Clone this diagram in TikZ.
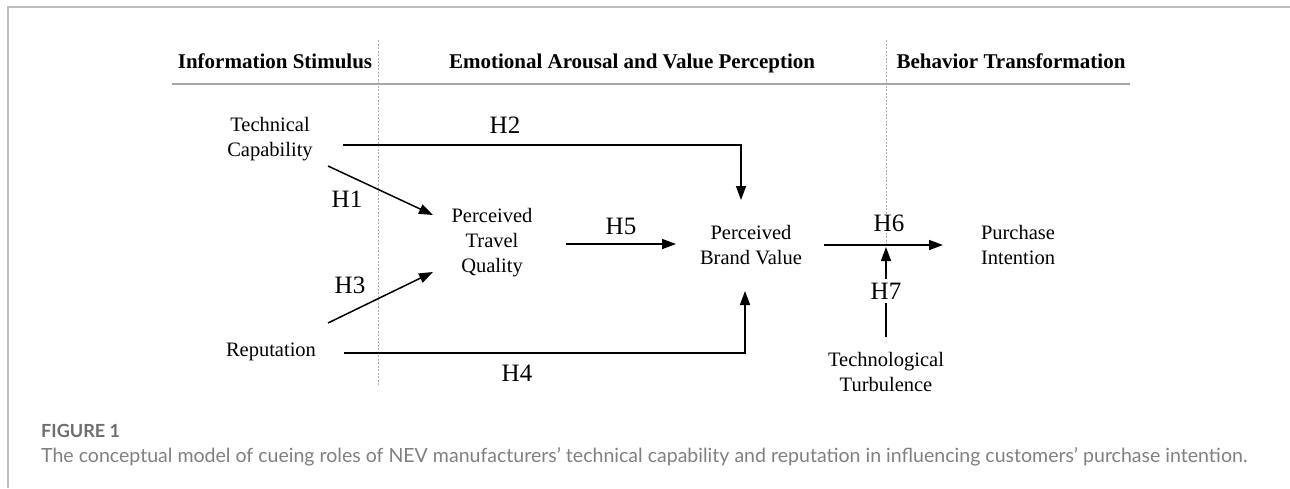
\documentclass[tikz,border=0pt]{standalone}
\usepackage{fontspec}
\setmainfont{Liberation Serif}
\newfontfamily\capfont{Lato}
\usetikzlibrary{arrows.meta}
\definecolor{framegray}{HTML}{BDBDBD}
\definecolor{rulegray}{HTML}{A6A6A6}
\definecolor{dotgray}{HTML}{B0B0B0}
\definecolor{capgray}{HTML}{808080}
\definecolor{figgray}{HTML}{6E6E6E}
\tikzset{
  concept/.style={align=center, font=\fontsize{20.5}{25}\selectfont, inner sep=0pt},
  header/.style={anchor=base, font=\bfseries\fontsize{21}{25}\selectfont, inner sep=0pt},
  hlabel/.style={font=\fontsize{25}{28}\selectfont, inner sep=1pt},
  arr/.style={line width=1.5pt, -{Triangle[length=14pt,width=10pt]}},
  divider/.style={dotgray, line width=0.9pt, dash pattern=on 2pt off 1.5pt},
}
\begin{document}
\begin{tikzpicture}[x=1pt,y=-1pt]
\useasboundingbox (0,0) rectangle (1290,488);
% frame
\draw[framegray, line width=1.6pt] (8,488) -- (8,7) -- (1290,7);
% dividers
\draw[divider] (378,40) -- (378,385);
\draw[divider] (886,40) -- (886,245);
% headers
\node[header] (hs) at (275,68) {Information Stimulus};
\node[header] (he) at (632,68) {Emotional Arousal and Value Perception};
\node[header] (hb) at (1011,68) {Behavior Transformation};
\draw[rulegray, line width=2pt] (172,84) -- (1130,84);
% concepts
\node[concept] (tc) at (270,139) {Technical\\Capability};
\node[concept] (rep) at (271,352) {Reputation};
\node[concept] (ptq) at (492,243) {Perceived\\Travel\\Quality};
\node[concept] (pbv) at (751,245) {Perceived\\Brand Value};
\node[concept] (pi) at (1018,245) {Purchase\\Intention};
\node[concept] (tt) at (886,372) {Technological\\Turbulence};
% connectors
\draw[arr] ([shift={(73,6)}]tc.center) -| ([shift={(-10,-45)}]pbv.center);
\draw[arr] ([shift={(58,27)}]tc.center) -- ([shift={(-59,-28)}]ptq.center);
\draw[arr] ([shift={(57,-29)}]rep.center) -- ([shift={(-59,29)}]ptq.center);
\draw[arr] ([shift={(73,1)}]rep.center) -| ([shift={(-6,46)}]pbv.center);
\draw[arr] ([shift={(-185,-1)}]pbv.center) -- ([shift={(-75,-1)}]pbv.center);
\draw[arr] ([shift={(73,0)}]pbv.center) -- ([shift={(-75,0)}]pi.center);
\draw[arr] ([shift={(0,-35)}]tt.center) -- ([shift={(0,-125)}]tt.center);
% labels
\node[hlabel] (l1) at (347,199) {H1};
\node[hlabel] (l2) at (505,125) {H2};
\node[hlabel] (l3) at (350,285) {H3};
\node[hlabel] (l4) at (517,373) {H4};
\node[hlabel] (l5) at (621,226) {H5};
\node[hlabel, fill=white] (l6) at (889,223) {H6};
\node[hlabel, fill=white, inner ysep=4pt] (l7) at (886,291) {H7};
% caption
\node[anchor=base west, inner sep=0pt, text=figgray] (fig) at (41,437)
  {\resizebox{79pt}{!}{\capfont\bfseries FIGURE 1}};
\node[anchor=base west, inner sep=0pt, text=capgray] (cap) at (41,462)
  {\resizebox{1206pt}{!}{\capfont The conceptual model of cueing roles of NEV manufacturers’ technical capability and reputation in influencing customers’ purchase intention.}};
\end{tikzpicture}
\end{document}
